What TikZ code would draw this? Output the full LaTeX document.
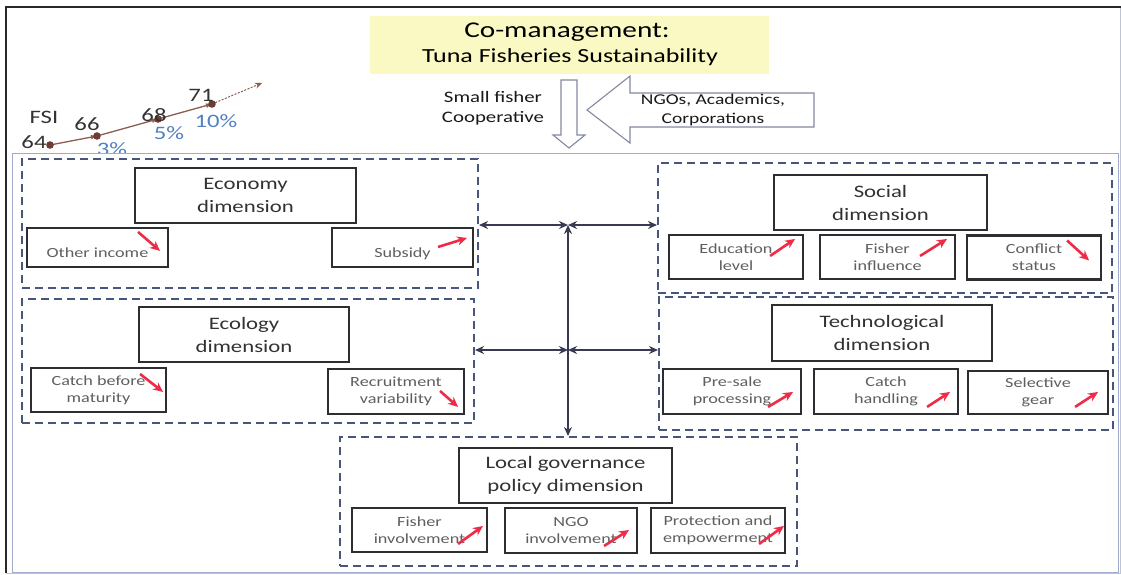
\documentclass[tikz,border=0pt]{standalone}
\usepackage{fontspec}
\setmainfont[FakeStretch=1.3]{Carlito}
\usetikzlibrary{positioning,arrows.meta}

\definecolor{framedark}{RGB}{40,40,40}
\definecolor{framelight}{RGB}{190,196,210}
\definecolor{panelline}{RGB}{160,172,205}
\definecolor{titlefill}{RGB}{250,249,196}
\definecolor{groupblue}{RGB}{72,86,124}
\definecolor{boxgray}{RGB}{45,45,50}
\definecolor{dimtext}{RGB}{50,50,50}
\definecolor{indtext}{RGB}{95,95,95}
\definecolor{trendred}{RGB}{238,44,72}
\definecolor{linkgray}{RGB}{55,58,80}
\definecolor{blockgray}{RGB}{130,136,160}
\definecolor{fsiline}{RGB}{140,92,80}
\definecolor{fsidot}{RGB}{110,60,50}
\definecolor{fsipct}{RGB}{80,128,190}

\begin{document}
\begin{tikzpicture}[x=1pt, y=-1pt,
        group/.style={
            rectangle, draw=groupblue, line width=2pt, dash pattern=on 8pt off 5pt, inner sep=0pt
        },
        dimension/.style={
            rectangle, draw=boxgray, line width=2.3pt, fill=white, align=center, inner sep=0pt,
            text=dimtext, font=\fontsize{17.5}{23}\selectfont
        },
        indicator/.style={
            rectangle, draw=boxgray, line width=2.1pt, fill=white, align=center, inner sep=0pt,
            text=indtext, font=\fontsize{14}{17}\selectfont
        },
        oneline/.style={text height=22pt, text depth=3pt},
        trend/.style={draw=trendred, line width=2.6pt, -{Stealth[length=10pt,width=9pt]}},
        link/.style={draw=linkgray, line width=2pt, {Stealth[length=9pt,width=8pt]}-{Stealth[length=9pt,width=8pt]}},
        blockarrow/.style={draw=blockgray, line width=1.1pt, fill=white, line join=miter},
        fsi/.style={font=\fontsize{19}{19}\selectfont, text=black!80, inner sep=0pt},
        pct/.style={font=\fontsize{19}{19}\selectfont, text=fsipct, inner sep=0pt},
        note/.style={align=center, text=black!90, font=\fontsize{16}{20}\selectfont, inner sep=0pt},
    ]
    \useasboundingbox (0,0) rectangle (1121,574);

    % page frame
    \draw[framelight, line width=1pt] (6,7) rectangle (1120,573);
    \draw[framedark, line width=1.3pt] (6,573) -- (6,7) -- (1121,7);

    % headline
    \node (title) [fill=titlefill, minimum width=399, minimum height=58, inner sep=0pt] at (569.5,45) {};
    \node (titleTop) [font=\fontsize{22.5}{22}\selectfont, inner sep=0pt] at (567,32) {Co-management:};
    \node (titleSub) [font=\fontsize{20}{20}\selectfont, inner sep=0pt] at (570,57) {Tuna Fisheries Sustainability};

    % who pushes co-management
    \draw[blockarrow] (561,80) -- (577,80) -- (577,135) -- (585,135) -- (569,148) -- (553,135) -- (561,135) -- cycle;
    \draw[blockarrow] (814,93) -- (630,93) -- (630,76) -- (587,110) -- (630,143) -- (630,127) -- (814,127) -- cycle;
    \node (coop) [note] at (493,108) {Small fisher\\Cooperative};
    \node (partners) [note, font=\fontsize{15}{19}\selectfont] at (713,110) {NGOs, Academics,\\Corporations};

    % FSI trend
    \coordinate (p64) at (50,145);
    \coordinate (p66) at (97,136);
    \coordinate (p68) at (158,119);
    \coordinate (p71) at (212,104);
    \coordinate (trendEnd) at (262,83);
    \draw[fsiline, line width=1.3pt, -{Latex[length=6pt,width=5pt]}] (p64) -- (p66);
    \draw[fsiline, line width=1.3pt, -{Latex[length=6pt,width=5pt]}] (p66) -- (p68);
    \draw[fsiline, line width=1.3pt, -{Latex[length=6pt,width=5pt]}] (p68) -- (p71);
    \draw[fsiline, line width=1pt, dash pattern=on 2pt off 1.5pt, -{Stealth[length=7pt,width=6pt]}] (p71) -- (trendEnd);
    \foreach \p in {p64,p66,p68,p71}
        \fill[fsidot] (\p) circle (3.8);
    \node (fsiName) [fsi] at (44,117) {FSI};
    \node (val64) [fsi] at (34,142) {64};
    \node (val66) [fsi] at (87,124) {66};
    \node (val68) [fsi] at (154,115) {68};
    \node (val71) [fsi] at (201,95) {71};
    \node (pct3) [pct] at (112,149) {3\%};
    \node (pct5) [pct] at (169,133) {5\%};
    \node (pct10) [pct] at (216,121) {10\%};

    % panel holding the five dimensions
    \draw[panelline, line width=1pt, fill=white] (12,153) rectangle (1118,572);

    \node (econGroup) [group, minimum width=456, minimum height=129] at (250,223.5) {};
    \node (ecoGroup) [group, minimum width=452, minimum height=124] at (248,361) {};
    \node (socGroup) [group, minimum width=454, minimum height=130] at (885,228) {};
    \node (techGroup) [group, minimum width=454, minimum height=133] at (886,363.5) {};
    \node (govGroup) [group, minimum width=457, minimum height=129] at (568.5,501.5) {};

    % economy
    \node (econTitle) [dimension, minimum width=221, minimum height=55] at (245.5,195.5) {Economy\\dimension};
    \node (otherIncome) [indicator, oneline, minimum width=141, minimum height=39] at (97.5,247.5) {Other income};
    \node (subsidy) [indicator, oneline, minimum width=141, minimum height=39] at (402.5,247.5) {Subsidy};
    \draw[trend] ([shift={(-31,5)}]otherIncome.north east) -- ([shift={(-9,24)}]otherIncome.north east);
    \draw[trend] ([shift={(-36,20)}]subsidy.north east) -- ([shift={(-7,11)}]subsidy.north east);

    % ecology
    \node (ecoTitle) [dimension, minimum width=210, minimum height=55] at (244,334.5) {Ecology\\dimension};
    \node (catchBefore) [indicator, minimum width=135, minimum height=44] at (98.5,390) {Catch before\\maturity};
    \node (recruitment) [indicator, minimum width=136, minimum height=45] at (396,391.5) {Recruitment\\variability};
    \draw[trend] ([shift={(-27,7)}]catchBefore.north east) -- ([shift={(-4,25)}]catchBefore.north east);
    \draw[trend] ([shift={(-25,23)}]recruitment.north east) -- ([shift={(-7,39)}]recruitment.north east);

    % social
    \node (socTitle) [dimension, minimum width=213, minimum height=55] at (880.5,202.5) {Social\\dimension};
    \node (education) [indicator, minimum width=134, minimum height=44] at (736,257) {Education\\level};
    \node (fisherInfl) [indicator, minimum width=135, minimum height=44] at (887.5,257) {Fisher\\influence};
    \node (conflict) [indicator, minimum width=134, minimum height=44] at (1034,257.5) {Conflict\\status};
    \draw[trend] ([shift={(-34,22)}]education.north east) -- ([shift={(-9,5)}]education.north east);
    \draw[trend] ([shift={(-36,22)}]fisherInfl.north east) -- ([shift={(-9,5)}]fisherInfl.north east);
    \draw[trend] ([shift={(-35,6)}]conflict.north east) -- ([shift={(-13,26)}]conflict.north east);

    % technology
    \node (techTitle) [dimension, minimum width=220, minimum height=56] at (882,333) {Technological\\dimension};
    \node (presale) [indicator, minimum width=138, minimum height=45] at (732,391.5) {Pre-sale\\processing};
    \node (catchHandling) [indicator, minimum width=144, minimum height=45] at (886,391.5) {Catch\\handling};
    \node (selective) [indicator, minimum width=140, minimum height=43] at (1038,392.5) {Selective\\gear};
    \draw[trend] ([shift={(-34,39)}]presale.north east) -- ([shift={(-9,24)}]presale.north east);
    \draw[trend] ([shift={(-32,39)}]catchHandling.north east) -- ([shift={(-9,24)}]catchHandling.north east);
    \draw[trend] ([shift={(-34,37)}]selective.north east) -- ([shift={(-11,22)}]selective.north east);

    % local governance
    \node (govTitle) [dimension, minimum width=213, minimum height=55] at (565.5,475.5) {Local governance\\policy dimension};
    \node (fisherInv) [indicator, minimum width=135, minimum height=44] at (419.5,530) {Fisher\\involvement};
    \node (ngoInv) [indicator, minimum width=132, minimum height=45] at (571,530.5) {NGO\\involvement};
    \node (protection) [indicator, minimum width=134, minimum height=45] at (718,530.5) {Protection and\\empowerment};
    \draw[trend] ([shift={(-30,37)}]fisherInv.north east) -- ([shift={(-5,19)}]fisherInv.north east);
    \draw[trend] ([shift={(-34,39)}]ngoInv.north east) -- ([shift={(-9,23)}]ngoInv.north east);
    \draw[trend] ([shift={(-27,37)}]protection.north east) -- ([shift={(-2,19)}]protection.north east);

    % links between the dimensions
    \coordinate (hubTop) at (568,225);
    \coordinate (hubMid) at (568,350);
    \draw[link] (econGroup.east |- hubTop) -- (hubTop);
    \draw[link] (hubTop) -- (socGroup.west |- hubTop);
    \draw[link] (ecoGroup.east |- hubMid) -- (hubMid);
    \draw[link] (hubMid) -- (techGroup.west |- hubMid);
    \draw[link] (hubTop) -- (hubTop |- govGroup.north);

\end{tikzpicture}
\end{document}
